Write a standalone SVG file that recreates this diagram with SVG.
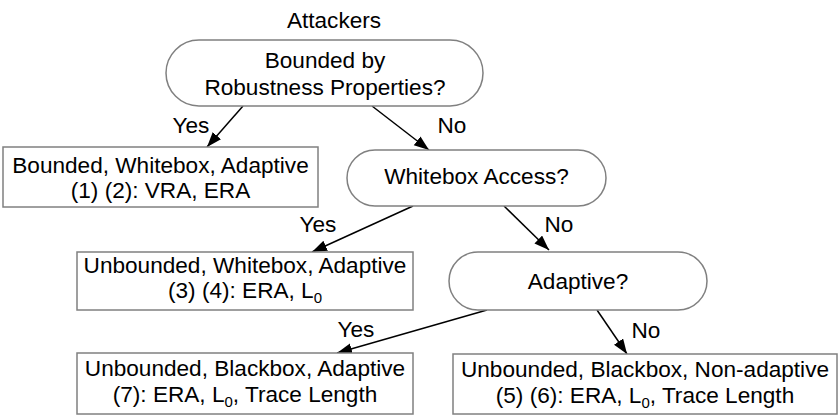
<svg xmlns="http://www.w3.org/2000/svg" width="839" height="416" viewBox="0 0 839 416">
<defs>
<marker id="ah" markerUnits="userSpaceOnUse" markerWidth="16" markerHeight="12" refX="15" refY="5.5" orient="auto">
<path d="M0,0 L15,5.5 L0,11 z" fill="#000"/>
</marker>
<style>
text{font-family:"Liberation Sans",Arial,Helvetica,sans-serif;font-size:22.6px;fill:#000;text-anchor:middle}
.box{fill:#fff;stroke:#808080;stroke-width:1.5}
.con{stroke:#000;stroke-width:1.5;fill:none;marker-end:url(#ah)}
.sub{font-size:15px}
</style>
</defs>
<rect width="839" height="416" fill="#fff"/>
<text x="334" y="28">Attackers</text>
<g id="connectors">
<line class="con" x1="243" y1="106" x2="207" y2="147"/>
<line class="con" x1="372" y1="106" x2="429" y2="150"/>
<line class="con" x1="413" y1="206" x2="312" y2="252"/>
<line class="con" x1="504" y1="206" x2="549" y2="250"/>
<line class="con" x1="487" y1="310" x2="337" y2="353"/>
<line class="con" x1="597" y1="310" x2="627" y2="354"/>
<text x="191" y="133">Yes</text>
<text x="452" y="133">No</text>
<text x="318" y="232">Yes</text>
<text x="559" y="232">No</text>
<text x="356" y="337">Yes</text>
<text x="646" y="338">No</text>
</g>
<g id="q1">
<rect class="box" x="166" y="40" width="317" height="66" rx="33"/>
<text x="325" y="68">Bounded by</text>
<text x="325" y="95">Robustness Properties?</text>
</g>
<g id="r1">
<rect class="box" x="3" y="147" width="315" height="60"/>
<text x="160.5" y="173">Bounded, Whitebox, Adaptive</text>
<text x="160.5" y="198">(1) (2): VRA, ERA</text>
</g>
<g id="q2">
<rect class="box" x="347" y="150" width="259" height="56" rx="28"/>
<text x="476.5" y="184">Whitebox Access?</text>
</g>
<g id="r2">
<rect class="box" x="77" y="252" width="336" height="58"/>
<text x="245" y="273">Unbounded, Whitebox, Adaptive</text>
<text x="245" y="298">(3) (4): ERA, L<tspan class="sub" dy="5">0</tspan></text>
</g>
<g id="q3">
<rect class="box" x="449" y="252" width="258" height="58" rx="29"/>
<text x="578" y="289">Adaptive?</text>
</g>
<g id="r3">
<rect class="box" x="77" y="353" width="336" height="61"/>
<text x="245" y="376">Unbounded, Blackbox, Adaptive</text>
<text x="245" y="402">(7): ERA, L<tspan class="sub" dy="5">0</tspan><tspan dy="-5">, Trace Length</tspan></text>
</g>
<g id="r4">
<rect class="box" x="453" y="354" width="384" height="60"/>
<text x="645" y="377">Unbounded, Blackbox, Non-adaptive</text>
<text x="645" y="403">(5) (6): ERA, L<tspan class="sub" dy="5">0</tspan><tspan dy="-5">, Trace Length</tspan></text>
</g>
</svg>
